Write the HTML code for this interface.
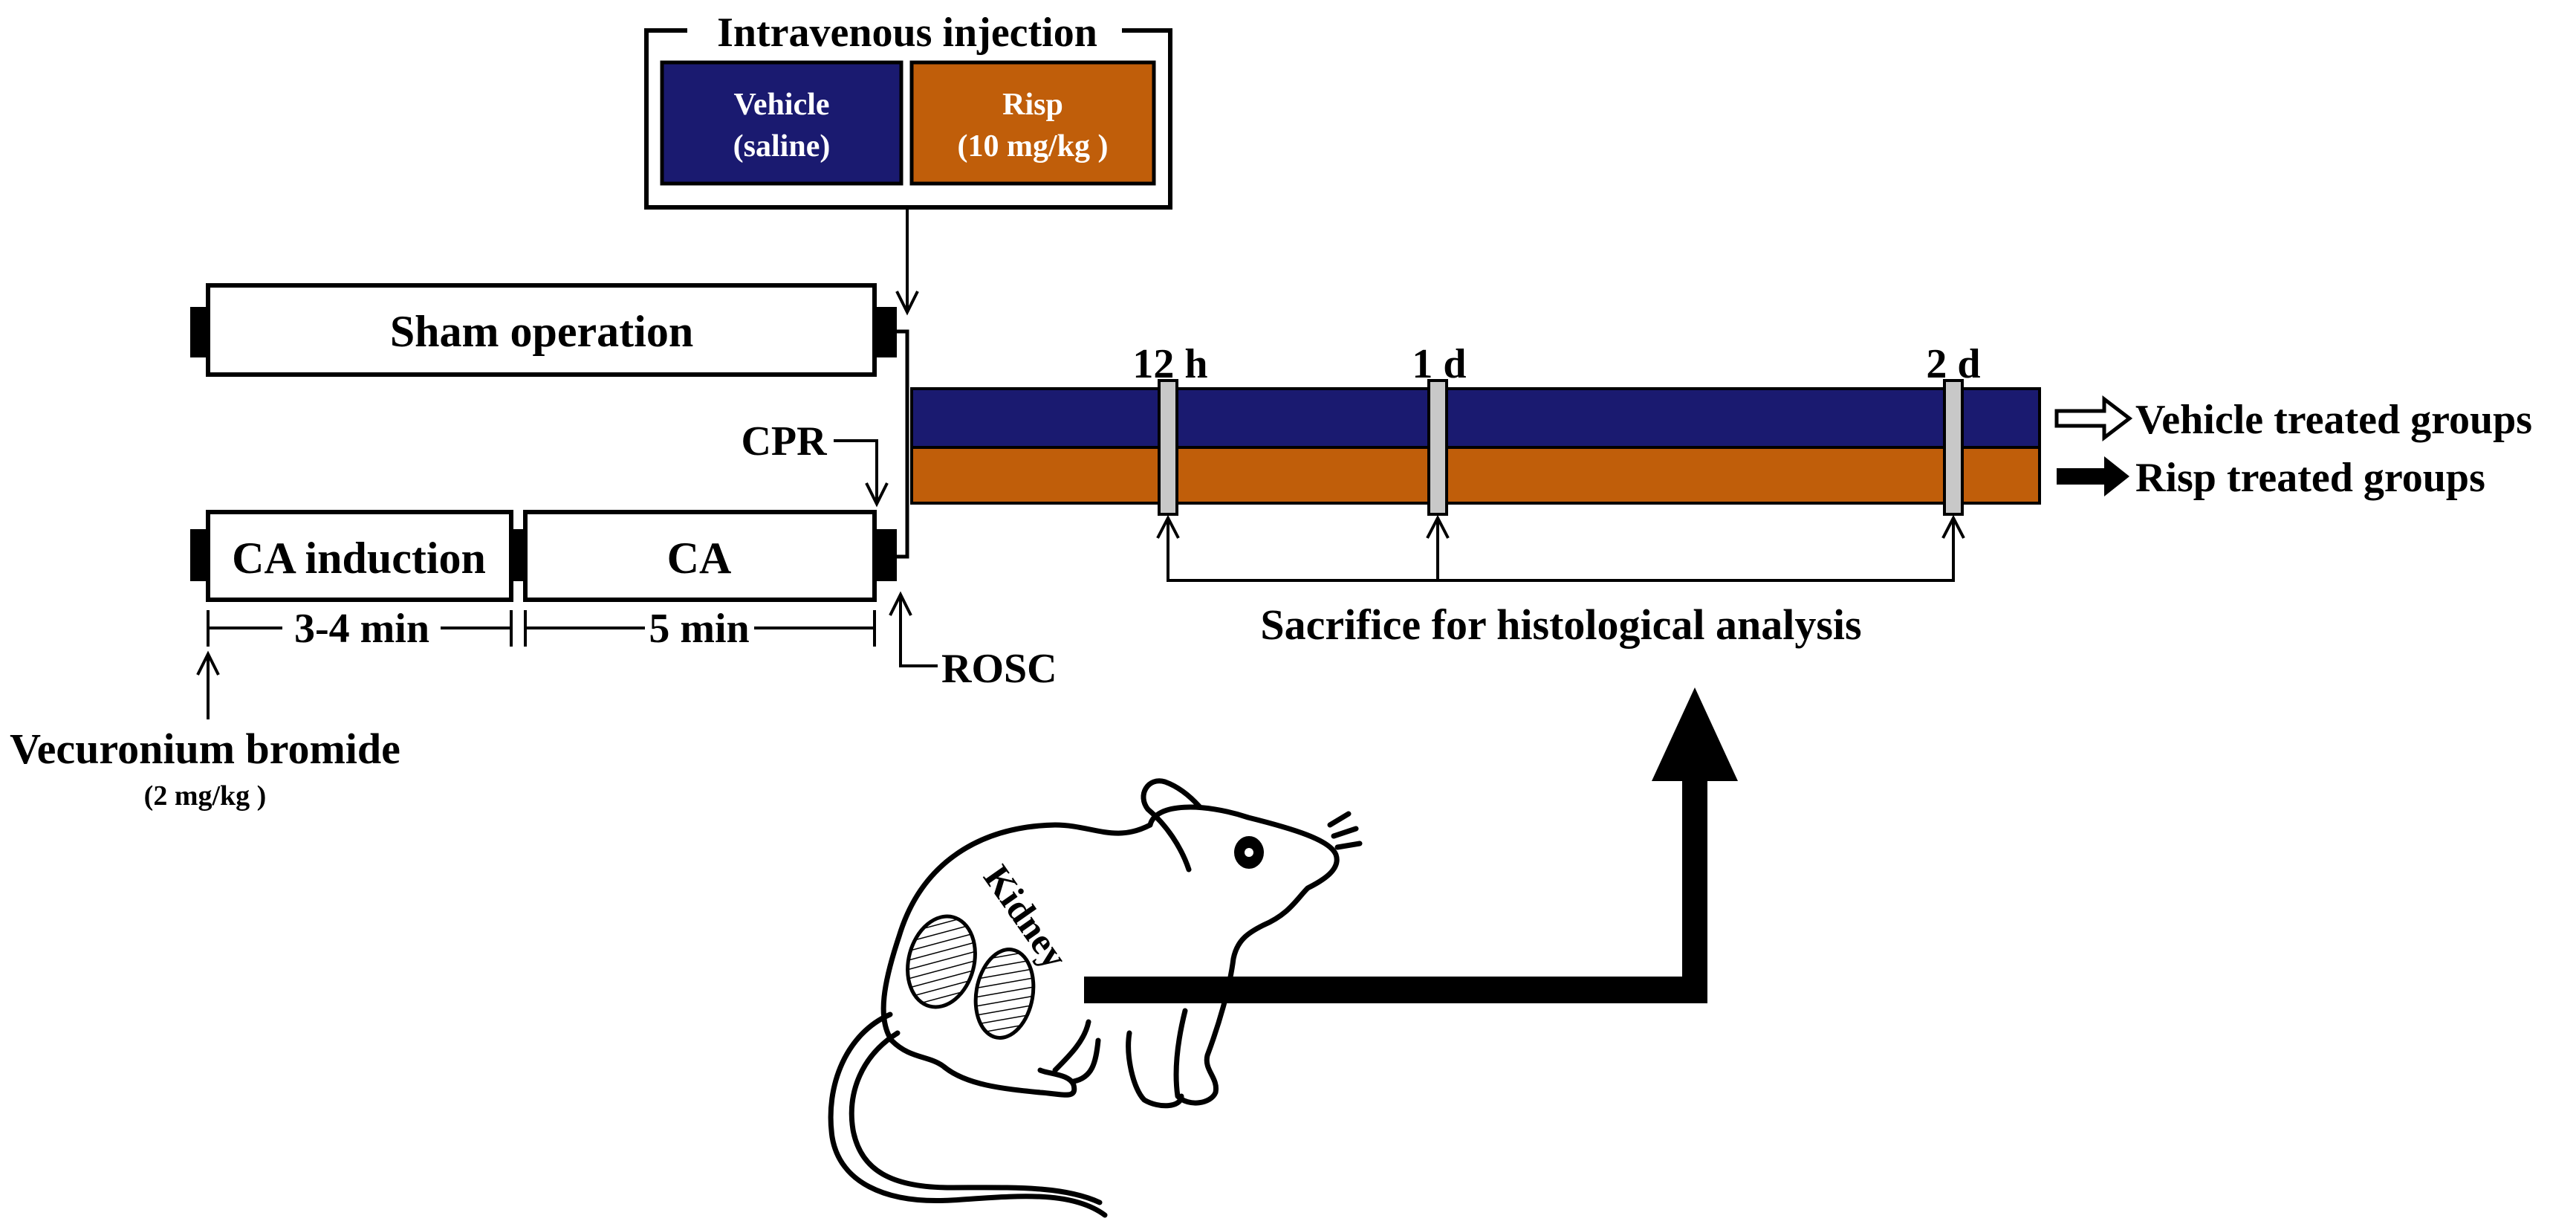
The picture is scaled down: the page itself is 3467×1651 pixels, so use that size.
<!DOCTYPE html>
<html><head><meta charset="utf-8"><style>html,body{margin:0;padding:0;background:#fff}svg{display:block}</style></head>
<body>
<svg width="3467" height="1651" viewBox="0 0 3467 1651" xmlns="http://www.w3.org/2000/svg" font-family="Liberation Serif, serif" font-weight="bold">
<defs>
<pattern id="h1" width="12" height="12" patternUnits="userSpaceOnUse" patternTransform="rotate(60)"><rect width="12" height="12" fill="#fff"/><line x1="0" y1="0" x2="0" y2="12" stroke="#000" stroke-width="3"/></pattern>
<pattern id="h2" width="12" height="12" patternUnits="userSpaceOnUse" patternTransform="rotate(-20)"><rect width="12" height="12" fill="#fff"/><line x1="0" y1="0" x2="12" y2="0" stroke="#000" stroke-width="3"/></pattern>
</defs>
<!-- Intravenous box -->
<polyline points="925,41 870,41 870,279 1575,279 1575,41 1510,41" fill="none" stroke="#000" stroke-width="6"/>
<text x="1221" y="62" font-size="56" text-anchor="middle">Intravenous injection</text>
<rect x="891" y="84" width="322" height="163" fill="#1a1a70" stroke="#000" stroke-width="5"/>
<rect x="1227" y="84" width="326" height="163" fill="#c05e0a" stroke="#000" stroke-width="5"/>
<g fill="#fff" font-size="42" text-anchor="middle">
<text x="1052" y="154">Vehicle</text><text x="1052" y="210">(saline)</text>
<text x="1390" y="154">Risp</text><text x="1390" y="210">(10 mg/kg )</text>
</g>
<line x1="1221" y1="279" x2="1221" y2="418" stroke="#000" stroke-width="4"/>
<polyline points="1207,392 1221,420 1235,392" fill="none" stroke="#000" stroke-width="4"/>
<!-- Sham -->
<rect x="280" y="384" width="897" height="120" fill="#fff" stroke="#000" stroke-width="6"/>
<rect x="256" y="413" width="24" height="68" fill="#000"/>
<rect x="1177" y="413" width="30" height="68" fill="#000"/>
<text x="729" y="466" font-size="60" text-anchor="middle">Sham operation</text>
<polyline points="1207,446 1221,446 1221,749 1207,749" fill="none" stroke="#000" stroke-width="5"/>
<!-- CPR -->
<text x="1055" y="612" font-size="56" text-anchor="middle">CPR</text>
<polyline points="1122,593 1180,593 1180,675" fill="none" stroke="#000" stroke-width="4"/>
<polyline points="1166,650 1180,678 1194,650" fill="none" stroke="#000" stroke-width="4"/>
<!-- lower boxes -->
<rect x="280" y="689" width="408" height="118" fill="#fff" stroke="#000" stroke-width="6"/>
<rect x="707" y="689" width="470" height="118" fill="#fff" stroke="#000" stroke-width="6"/>
<rect x="256" y="712" width="24" height="70" fill="#000"/>
<rect x="688" y="712" width="19" height="70" fill="#000"/>
<rect x="1177" y="712" width="30" height="70" fill="#000"/>
<text x="483" y="771" font-size="60" text-anchor="middle">CA induction</text>
<text x="941" y="771" font-size="60" text-anchor="middle">CA</text>
<!-- dimension -->
<g stroke="#000" stroke-width="4">
<line x1="280" y1="821" x2="280" y2="870"/><line x1="688" y1="821" x2="688" y2="870"/>
<line x1="707" y1="821" x2="707" y2="870"/><line x1="1177" y1="821" x2="1177" y2="870"/>
<line x1="280" y1="845" x2="380" y2="845"/><line x1="593" y1="845" x2="688" y2="845"/>
<line x1="707" y1="845" x2="868" y2="845"/><line x1="1015" y1="845" x2="1177" y2="845"/>
</g>
<text x="487" y="864" font-size="56" text-anchor="middle">3-4 min</text>
<text x="941" y="864" font-size="56" text-anchor="middle">5 min</text>
<!-- vecuronium -->
<line x1="280" y1="968" x2="280" y2="884" stroke="#000" stroke-width="4"/>
<polyline points="266,908 280,880 294,908" fill="none" stroke="#000" stroke-width="4"/>
<text x="276" y="1027" font-size="58" text-anchor="middle">Vecuronium bromide</text>
<text x="276" y="1083" font-size="38" text-anchor="middle">(2 mg/kg )</text>
<!-- ROSC -->
<polyline points="1212,804 1212,896 1262,896" fill="none" stroke="#000" stroke-width="4"/>
<polyline points="1198,828 1212,800 1226,828" fill="none" stroke="#000" stroke-width="4"/>
<text x="1267" y="918" font-size="56">ROSC</text>
<!-- timeline bars -->
<rect x="1227" y="523" width="1518" height="79" fill="#1a1a70" stroke="#000" stroke-width="4"/>
<rect x="1227" y="602" width="1518" height="75" fill="#c05e0a" stroke="#000" stroke-width="4"/>
<g fill="#c8c8c8" stroke="#000" stroke-width="4">
<rect x="1560" y="512" width="24" height="180"/>
<rect x="1923" y="512" width="24" height="180"/>
<rect x="2617" y="512" width="24" height="180"/>
</g>
<g font-size="56" text-anchor="middle">
<text x="1575" y="508">12 h</text><text x="1937" y="508">1 d</text><text x="2629" y="508">2 d</text>
</g>
<g fill="none" stroke="#000" stroke-width="4">
<polyline points="1572,700 1572,781 2629,781 2629,700"/>
<line x1="1935" y1="700" x2="1935" y2="781"/>
<polyline points="1558,724 1572,697 1586,724"/>
<polyline points="1921,724 1935,697 1949,724"/>
<polyline points="2615,724 2629,697 2643,724"/>
</g>
<text x="2101" y="860" font-size="58" text-anchor="middle">Sacrifice for histological analysis</text>
<!-- legend -->
<polygon points="2768,553 2832,553 2832,537 2866,563 2832,589 2832,573 2768,573" fill="#fff" stroke="#000" stroke-width="5"/>
<polygon points="2768,630 2832,630 2832,614 2866,641 2832,668 2832,652 2768,652" fill="#000"/>
<text x="2874" y="583" font-size="56">Vehicle treated groups</text>
<text x="2874" y="661" font-size="56">Risp treated groups</text>
<!-- big arrow -->
<polygon points="1459,1314 2264,1314 2264,1051 2223,1051 2281,925 2339,1051 2298,1051 2298,1350 1459,1350" fill="#000"/>
<!-- mouse -->
<g fill="none" stroke="#000" stroke-width="7" stroke-linecap="round" stroke-linejoin="round">
<path d="M1545,1089 C1530,1070 1545,1045 1568,1052 C1590,1060 1605,1075 1614,1085"/>
<path d="M1545,1089 C1570,1110 1590,1140 1600,1170"/>
<path d="M1548,1110 C1555,1080 1620,1080 1680,1100 C1740,1115 1790,1130 1798,1150 C1805,1170 1780,1185 1760,1195 C1745,1210 1735,1230 1700,1245 C1680,1255 1665,1265 1660,1290 C1655,1330 1640,1380 1625,1420 C1620,1440 1640,1450 1636,1470 C1630,1485 1600,1490 1585,1475 C1580,1440 1585,1400 1595,1360"/>
<path d="M1548,1110 C1500,1135 1470,1110 1420,1110 C1320,1112 1240,1160 1210,1260 C1190,1320 1180,1370 1200,1400 C1225,1425 1250,1420 1270,1435 C1300,1460 1350,1465 1400,1470 C1430,1472 1450,1480 1445,1460 C1440,1445 1410,1445 1400,1440"/>
<path d="M1420,1440 C1440,1420 1460,1400 1465,1375"/>
<path d="M1520,1390 C1515,1420 1525,1465 1540,1480 C1560,1492 1590,1490 1590,1475"/>
<path d="M1478,1400 C1475,1430 1470,1450 1445,1455"/>
<path d="M1198,1365 C1140,1390 1110,1460 1120,1530 C1130,1590 1190,1620 1280,1615 C1360,1610 1440,1600 1487,1635"/>
<path d="M1208,1390 C1160,1420 1140,1470 1148,1520 C1158,1575 1200,1598 1280,1598 C1360,1598 1430,1595 1480,1618"/>
<path d="M1790,1110 L1815,1095 M1795,1125 L1825,1115 M1800,1140 L1830,1135"/>
</g>
<ellipse cx="1681" cy="1147" rx="20" ry="22" fill="#000"/>
<circle cx="1681" cy="1147" r="6" fill="#fff"/>
<ellipse cx="1267" cy="1294" rx="44" ry="62" fill="url(#h1)" stroke="#000" stroke-width="5" transform="rotate(15 1267 1294)"/>
<ellipse cx="1352" cy="1337" rx="38" ry="60" fill="url(#h2)" stroke="#000" stroke-width="5" transform="rotate(10 1352 1337)"/>
<text x="1380" y="1250" font-size="50" text-anchor="middle" transform="rotate(55 1380 1234)">Kidney</text>
</svg>
</body></html>
